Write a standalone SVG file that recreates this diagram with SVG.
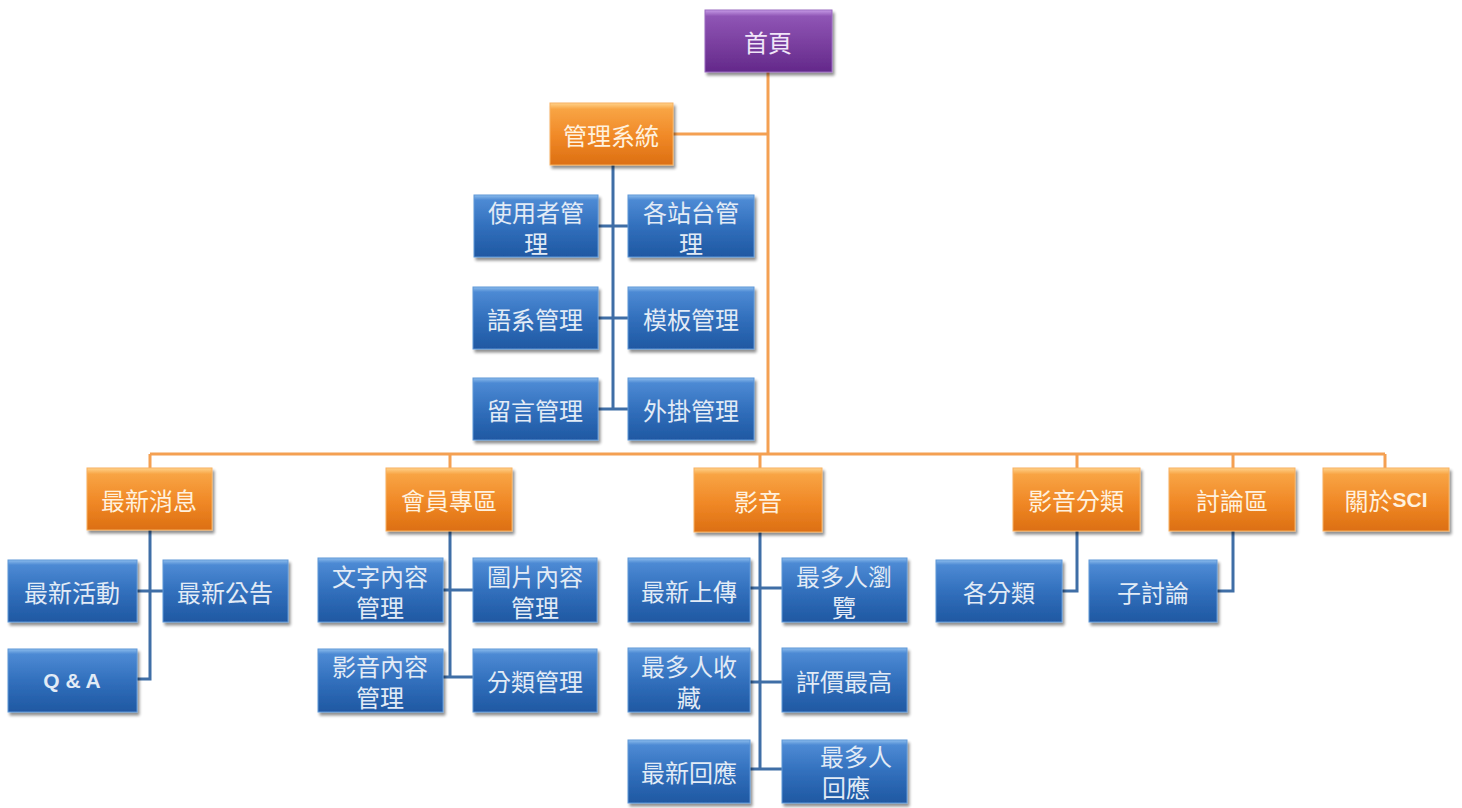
<svg xmlns="http://www.w3.org/2000/svg" width="1462" height="808" viewBox="0 0 1462 808">
<defs>
<linearGradient id="gBlue" x1="0" y1="0" x2="0" y2="1">
<stop offset="0" stop-color="#8cbcec"/>
<stop offset="0.08" stop-color="#4d8ad4"/>
<stop offset="0.5" stop-color="#3270bd"/>
<stop offset="1" stop-color="#1f58a2"/>
</linearGradient>
<linearGradient id="gOrange" x1="0" y1="0" x2="0" y2="1">
<stop offset="0" stop-color="#ffd28a"/>
<stop offset="0.1" stop-color="#f8a444"/>
<stop offset="0.55" stop-color="#f08826"/>
<stop offset="1" stop-color="#dc6f12"/>
</linearGradient>
<linearGradient id="gPurple" x1="0" y1="0" x2="0" y2="1">
<stop offset="0" stop-color="#c69be6"/>
<stop offset="0.1" stop-color="#8f55b5"/>
<stop offset="0.55" stop-color="#7a3f9f"/>
<stop offset="1" stop-color="#63288a"/>
</linearGradient>
<filter id="sh" x="-10%" y="-10%" width="125%" height="130%">
<feGaussianBlur in="SourceAlpha" stdDeviation="1.5"/>
<feOffset dx="2" dy="3" result="b"/>
<feComponentTransfer><feFuncA type="linear" slope="0.45"/></feComponentTransfer>
<feMerge><feMergeNode/><feMergeNode in="SourceGraphic"/></feMerge>
</filter>
</defs>
<style>
.b{fill:url(#gBlue);stroke:#5f97d8;stroke-width:1;filter:url(#sh)}
.o{fill:url(#gOrange);stroke:#f7b060;stroke-width:1;filter:url(#sh)}
.p{fill:url(#gPurple);stroke:#9a68c0;stroke-width:1;filter:url(#sh)}
.t{font-family:"Noto Sans CJK TC","Noto Sans CJK SC",sans-serif;font-size:24px;text-anchor:middle;dominant-baseline:central}
.tb{fill:#e2ebf6}
.to{fill:#fff1de}
.tp{fill:#f0e6f8}
.lat{font-family:"Liberation Sans",Arial,sans-serif;font-weight:bold;font-size:21px}
.co{fill:none;stroke:#f4a052;stroke-width:3}
.cb{fill:none;stroke:#3f6ea6;stroke-width:3}
</style>
<rect width="1462" height="808" fill="#ffffff"/>
<g id="connectors">
<path class="co" d="M768,72 V454 M673,134 H768 M150,454 H1385 M150,454 V468 M450,454 V468 M760,454 V468 M1077,454 V468 M1233,454 V468 M1385,454 V468"/>
<path class="cb" d="M613,165 V409 M598,226 H628 M598,318 H628 M598,409 H628"/>
<path class="cb" d="M150,530 V679 H137 M137,591 H163"/>
<path class="cb" d="M450,531 V677 M443,590 H473 M443,677 H473"/>
<path class="cb" d="M760,532 V769 M750,588 H782 M750,682 H782 M750,769 H782"/>
<path class="cb" d="M1077,531 V591 H1062"/>
<path class="cb" d="M1233,531 V591 H1217"/>
</g>
<g id="n-home"><rect class="p" x="705" y="10" width="127" height="62"/><text class="t tp" x="768" y="41">首頁</text></g>
<g id="n-admin"><rect class="o" x="550" y="103" width="123" height="62"/><text class="t to" x="611" y="134">管理系統</text></g>
<g id="n-user"><rect class="b" x="474" y="195" width="124" height="62"/><text class="t tb" x="536" y="211">使用者管<tspan x="536" dy="31">理</tspan></text></g>
<g id="n-site"><rect class="b" x="628" y="195" width="126" height="62"/><text class="t tb" x="691" y="211">各站台管<tspan x="691" dy="31">理</tspan></text></g>
<g id="n-lang"><rect class="b" x="473" y="287" width="125" height="62"/><text class="t tb" x="535" y="318">語系管理</text></g>
<g id="n-tpl"><rect class="b" x="628" y="287" width="126" height="62"/><text class="t tb" x="691" y="318">模板管理</text></g>
<g id="n-msg"><rect class="b" x="473" y="378" width="125" height="62"/><text class="t tb" x="535" y="409">留言管理</text></g>
<g id="n-plugin"><rect class="b" x="628" y="378" width="126" height="62"/><text class="t tb" x="691" y="409">外掛管理</text></g>
<g id="n-news"><rect class="o" x="87" y="468" width="125" height="62"/><text class="t to" x="149" y="499">最新消息</text></g>
<g id="n-member"><rect class="o" x="386" y="468" width="126" height="63"/><text class="t to" x="449" y="499">會員專區</text></g>
<g id="n-video"><rect class="o" x="694" y="468" width="128" height="64"/><text class="t to" x="758" y="500">影音</text></g>
<g id="n-vcat"><rect class="o" x="1013" y="468" width="127" height="63"/><text class="t to" x="1076" y="499">影音分類</text></g>
<g id="n-forum"><rect class="o" x="1169" y="468" width="126" height="63"/><text class="t to" x="1232" y="499">討論區</text></g>
<g id="n-about"><rect class="o" x="1323" y="468" width="126" height="63"/><text class="t to" x="1386" y="499">關於<tspan class="lat">SCI</tspan></text></g>
<g id="n-act"><rect class="b" x="8" y="560" width="129" height="62"/><text class="t tb" x="72" y="591">最新活動</text></g>
<g id="n-ann"><rect class="b" x="163" y="560" width="125" height="62"/><text class="t tb" x="225" y="591">最新公告</text></g>
<g id="n-qa"><rect class="b" x="8" y="649" width="129" height="63"/><text class="t tb lat" x="72" y="680">Q &amp; A</text></g>
<g id="n-text"><rect class="b" x="318" y="558" width="125" height="64"/><text class="t tb" x="380" y="575">文字內容<tspan x="380" dy="31">管理</tspan></text></g>
<g id="n-img"><rect class="b" x="473" y="558" width="124" height="64"/><text class="t tb" x="535" y="575">圖片內容<tspan x="535" dy="31">管理</tspan></text></g>
<g id="n-av"><rect class="b" x="318" y="649" width="125" height="63"/><text class="t tb" x="380" y="665">影音內容<tspan x="380" dy="31">管理</tspan></text></g>
<g id="n-cat"><rect class="b" x="473" y="649" width="124" height="63"/><text class="t tb" x="535" y="680">分類管理</text></g>
<g id="n-upload"><rect class="b" x="628" y="558" width="122" height="64"/><text class="t tb" x="689" y="590">最新上傳</text></g>
<g id="n-views"><rect class="b" x="782" y="558" width="125" height="64"/><text class="t tb" x="844" y="575">最多人瀏<tspan x="844" dy="31">覽</tspan></text></g>
<g id="n-fav"><rect class="b" x="628" y="648" width="122" height="64"/><text class="t tb" x="689" y="665">最多人收<tspan x="689" dy="31">藏</tspan></text></g>
<g id="n-rate"><rect class="b" x="782" y="648" width="125" height="64"/><text class="t tb" x="844" y="680">評價最高</text></g>
<g id="n-reply"><rect class="b" x="628" y="740" width="122" height="63"/><text class="t tb" x="689" y="771">最新回應</text></g>
<g id="n-mostreply"><rect class="b" x="782" y="740" width="125" height="63"/><text class="t tb" x="856" y="755">最多人<tspan x="846" dy="31">回應</tspan></text></g>
<g id="n-allcat"><rect class="b" x="936" y="560" width="126" height="62"/><text class="t tb" x="999" y="591">各分類</text></g>
<g id="n-sub"><rect class="b" x="1089" y="560" width="128" height="62"/><text class="t tb" x="1153" y="591">子討論</text></g>
</svg>
